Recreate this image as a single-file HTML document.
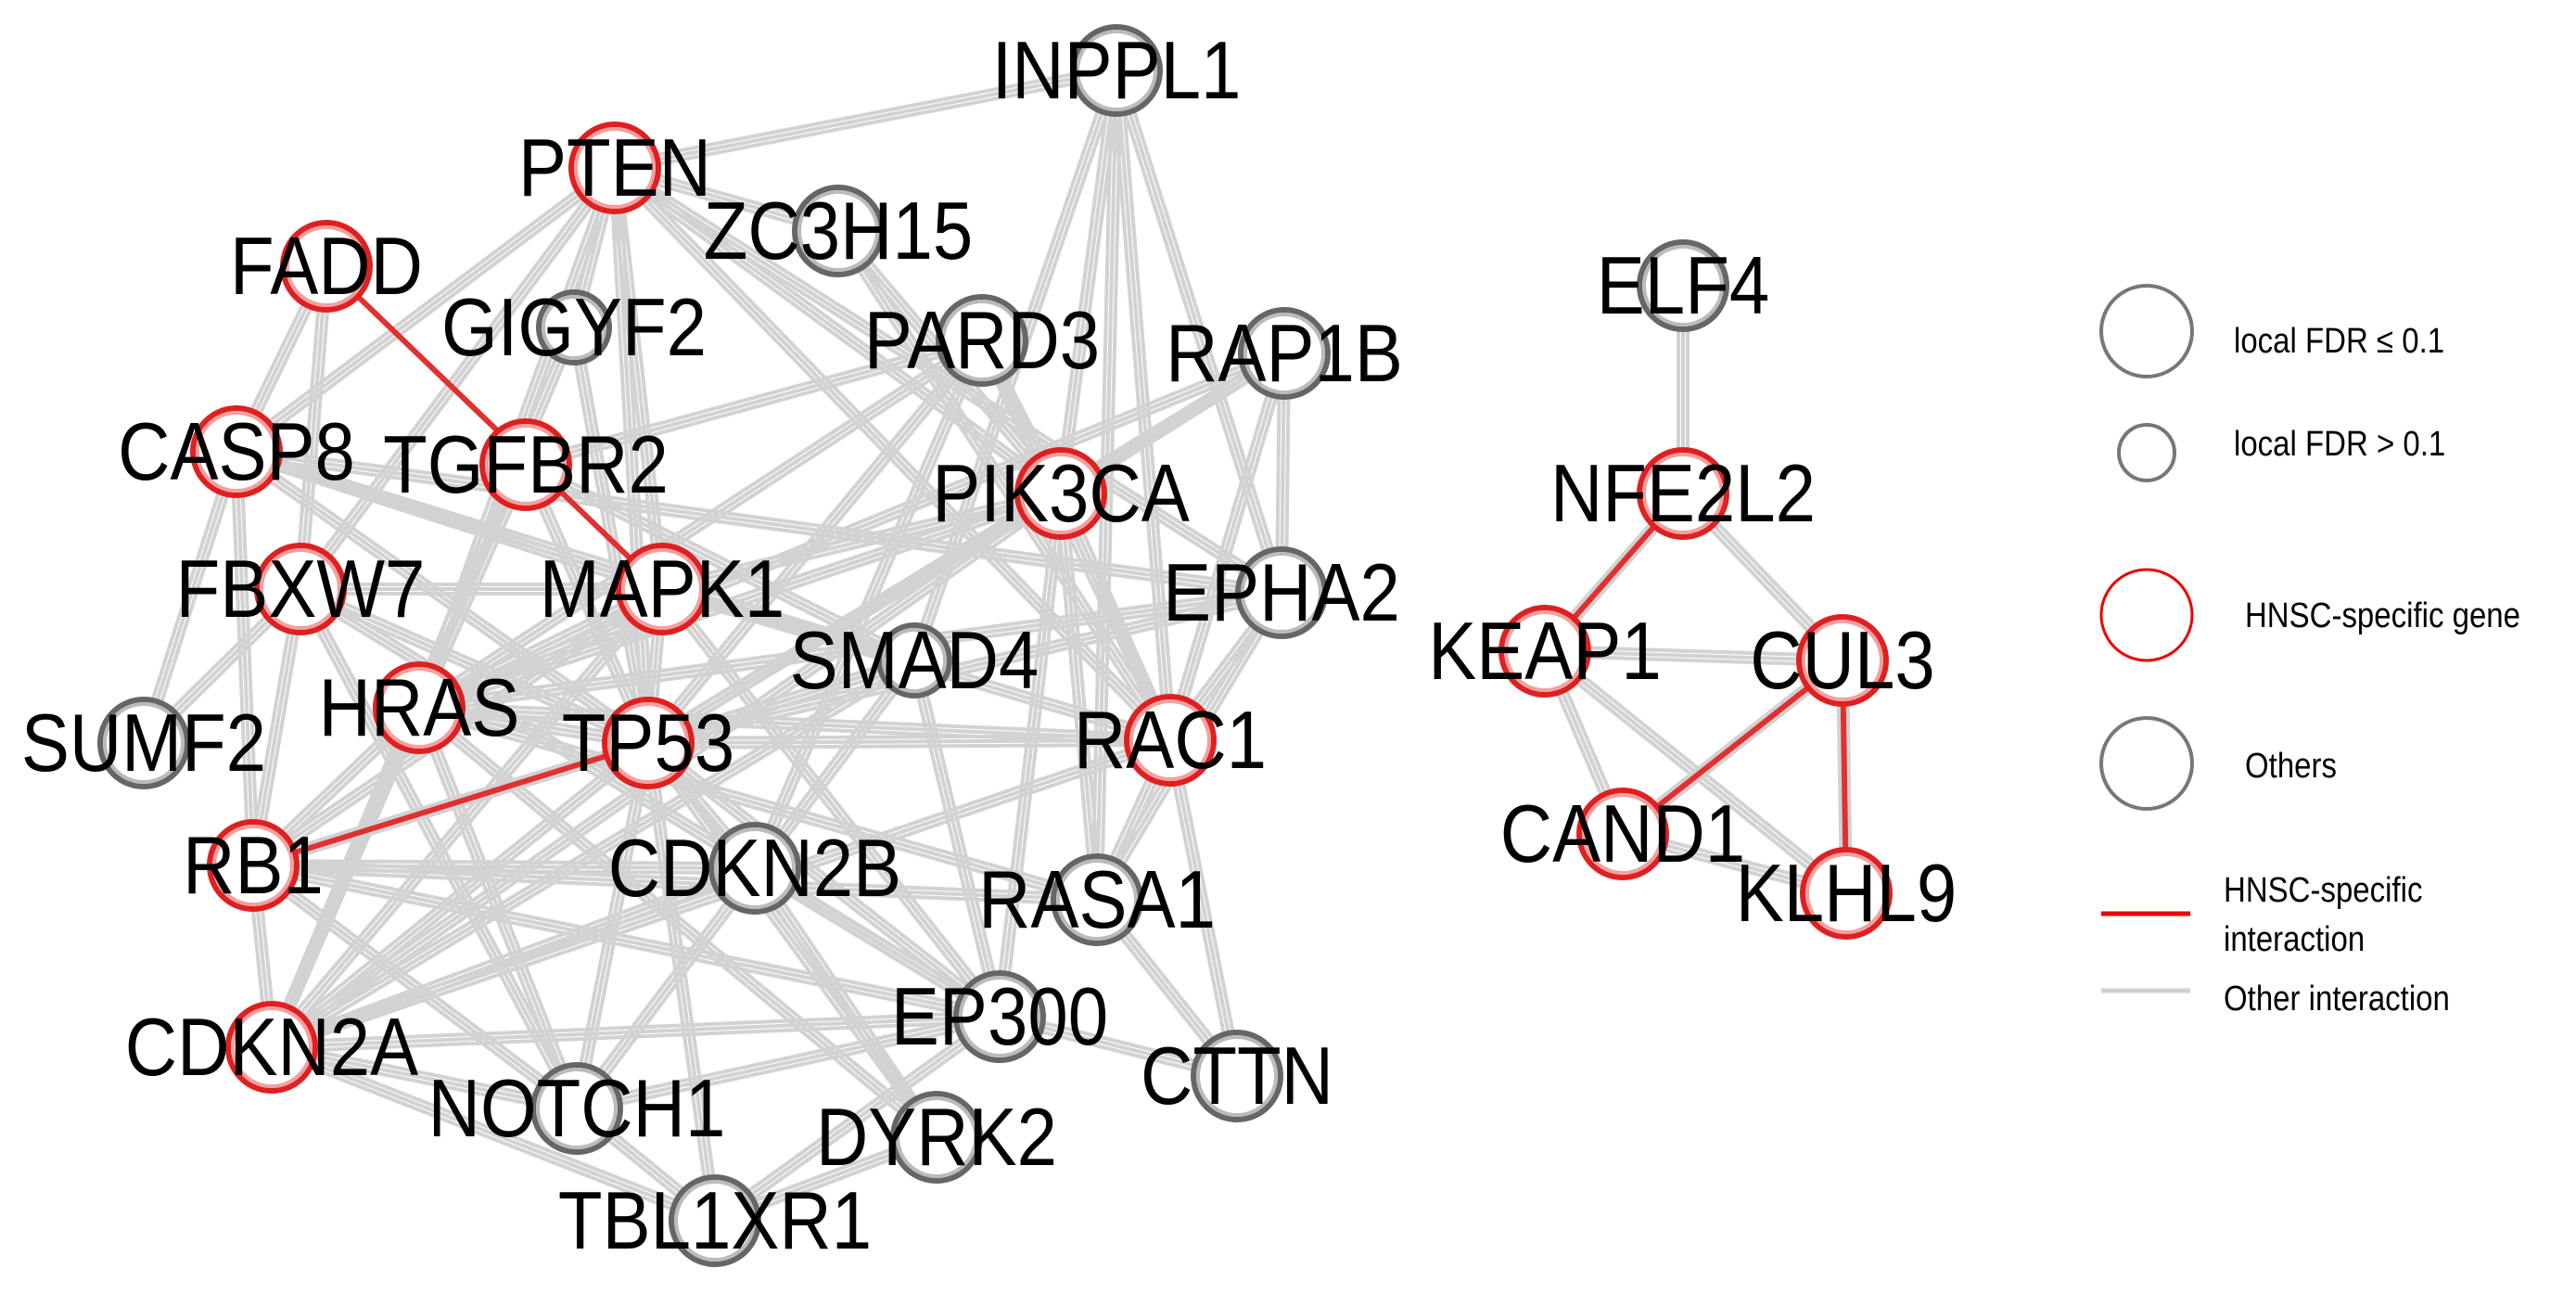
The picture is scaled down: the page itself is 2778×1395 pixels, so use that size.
<!DOCTYPE html>
<html><head><meta charset="utf-8"><style>
html,body{margin:0;padding:0;background:#fff;}
svg{display:block;}
.lb{font-family:"Liberation Sans",sans-serif;font-size:78px;fill:#000;text-anchor:middle;dominant-baseline:central;}
.lg{font-family:"Liberation Sans",sans-serif;font-size:33px;fill:#000;}
</style></head><body>
<svg id="s" width="2778" height="1395" viewBox="0 0 2778 1395" xmlns="http://www.w3.org/2000/svg">
<g id="edges"></g><g id="red"></g><g id="nodes"></g><g id="labels"></g>
<circle cx="2315" cy="357" r="49" fill="none" stroke="#777" stroke-width="4"/>
<circle cx="2315" cy="488" r="30" fill="none" stroke="#777" stroke-width="4"/>
<circle cx="2315" cy="663" r="49" fill="none" stroke="#e00" stroke-width="3"/>
<circle cx="2315" cy="823" r="49" fill="none" stroke="#777" stroke-width="4"/>
<line x1="2266" y1="985" x2="2362" y2="985" stroke="#e00" stroke-width="5"/>
<line x1="2266" y1="1068" x2="2362" y2="1068" stroke="#d0d0d0" stroke-width="5"/>
<text class="lg" x="2409" y="380" transform="translate(2409 380) scale(1,1.15) translate(-2409 -380)">local FDR ≤ 0.1</text>
<text class="lg" x="2409" y="491" transform="translate(2409 491) scale(1,1.15) translate(-2409 -491)">local FDR &gt; 0.1</text>
<text class="lg" x="2421" y="676" transform="translate(2421 676) scale(1,1.15) translate(-2421 -676)">HNSC-specific gene</text>
<text class="lg" x="2421" y="838" transform="translate(2421 838) scale(1,1.15) translate(-2421 -838)">Others</text>
<text class="lg" x="2398" y="972" transform="translate(2398 972) scale(1,1.15) translate(-2398 -972)">HNSC-specific</text>
<text class="lg" x="2398" y="1025" transform="translate(2398 1025) scale(1,1.15) translate(-2398 -1025)">interaction</text>
<text class="lg" x="2398" y="1089" transform="translate(2398 1089) scale(1,1.15) translate(-2398 -1089)">Other interaction</text>
</svg>
<script>
var N={INPPL1:[1204,76,0],PTEN:[663,181,1],ZC3H15:[904,249,0],FADD:[352,287,1],GIGYF2:[619,353,0,38],PARD3:[1059,367,0],RAP1B:[1385,381,0],CASP8:[255,487,1],TGFBR2:[567,501,1],PIK3CA:[1144,532,1],FBXW7:[324,635,1],MAPK1:[714,635,1],EPHA2:[1382,639,0],SMAD4:[986,712,0,38],HRAS:[452,763,1],SUMF2:[155,801,0],TP53:[699,801,1],RAC1:[1262,798,1],RB1:[273,933,1],CDKN2B:[814,936,0],RASA1:[1183,970,0],EP300:[1078,1096,0],CTTN:[1334,1160,0],CDKN2A:[293,1129,1],NOTCH1:[622,1195,0],DYRK2:[1010,1226,0],TBL1XR1:[771,1316,0],
ELF4:[1815,308,0],NFE2L2:[1815,532,1],KEAP1:[1666,702,1],CUL3:[1987,712,1],CAND1:[1750,899,1],KLHL9:[1991,963,1]};
var E="INPPL1-PTEN INPPL1-PIK3CA INPPL1-RAC1 INPPL1-EPHA2 INPPL1-SMAD4 INPPL1-RASA1 PTEN-ZC3H15 PTEN-PIK3CA PTEN-CASP8 PTEN-MAPK1 PTEN-TP53 PTEN-HRAS PTEN-FBXW7 PTEN-GIGYF2 PTEN-EPHA2 PTEN-RAC1 ZC3H15-PIK3CA FADD-CASP8 FADD-FBXW7 CASP8-TP53 CASP8-MAPK1 CASP8-RB1 CASP8-SMAD4 CASP8-EPHA2 TGFBR2-SMAD4 TGFBR2-HRAS TGFBR2-TP53 TGFBR2-CDKN2A PARD3-PIK3CA PARD3-TGFBR2 PARD3-HRAS PARD3-RAC1 PARD3-CDKN2B PARD3-TP53 RAP1B-PIK3CA RAP1B-HRAS RAP1B-EPHA2 RAP1B-RAC1 RAP1B-TP53 PIK3CA-HRAS PIK3CA-TP53 PIK3CA-RAC1 PIK3CA-EP300 PIK3CA-RASA1 PIK3CA-CDKN2A PIK3CA-MAPK1 FBXW7-TP53 FBXW7-NOTCH1 FBXW7-RB1 FBXW7-SUMF2 FBXW7-MAPK1 FBXW7-EP300 MAPK1-TP53 MAPK1-RAC1 MAPK1-HRAS MAPK1-EP300 MAPK1-SMAD4 MAPK1-RB1 MAPK1-CDKN2A EPHA2-HRAS EPHA2-TP53 EPHA2-RAC1 EPHA2-RASA1 SMAD4-TP53 SMAD4-EP300 SMAD4-CDKN2A SMAD4-NOTCH1 SMAD4-RB1 HRAS-RASA1 HRAS-TP53 HRAS-RB1 HRAS-CDKN2A HRAS-RAC1 HRAS-NOTCH1 HRAS-DYRK2 TP53-CDKN2A TP53-EP300 TP53-CDKN2B TP53-NOTCH1 TP53-RAC1 TP53-DYRK2 TP53-TBL1XR1 RAC1-RASA1 RAC1-CTTN RAC1-CDKN2A RB1-CDKN2A RB1-EP300 RB1-CDKN2B RB1-NOTCH1 RB1-RASA1 CDKN2B-CDKN2A CDKN2B-EP300 CDKN2B-DYRK2 EP300-CTTN EP300-NOTCH1 EP300-CDKN2A EP300-TBL1XR1 NOTCH1-TBL1XR1 NOTCH1-CDKN2A DYRK2-TBL1XR1 CDKN2A-TBL1XR1 CTTN-RASA1 CASP8-SUMF2 GIGYF2-TP53 GIGYF2-CDKN2A ZC3H15-RAC1 ELF4-NFE2L2 NFE2L2-KEAP1 NFE2L2-CUL3 KEAP1-CUL3 KEAP1-CAND1 KEAP1-KLHL9 CUL3-CAND1 CUL3-KLHL9 CAND1-KLHL9".split(" ");
var R=["FADD-MAPK1","RB1-TP53","NFE2L2-KEAP1","CUL3-CAND1","CUL3-KLHL9"];
var ns="http://www.w3.org/2000/svg";
function ln(g,a,b,off,col,w){var dx=b[0]-a[0],dy=b[1]-a[1],l=Math.hypot(dx,dy),ox=-dy/l*off,oy=dx/l*off;var e=document.createElementNS(ns,"line");e.setAttribute("x1",a[0]+ox);e.setAttribute("y1",a[1]+oy);e.setAttribute("x2",b[0]+ox);e.setAttribute("y2",b[1]+oy);e.setAttribute("stroke",col);e.setAttribute("stroke-width",w);g.appendChild(e);}
var ge=document.getElementById("edges"),gr=document.getElementById("red"),gn=document.getElementById("nodes"),gl=document.getElementById("labels");
E.forEach(function(s){var p=s.split("-");var a=N[p[0]],b=N[p[1]];ln(ge,a,b,-5,"#d2d2d2",4);ln(ge,a,b,0,"#d2d2d2",4);ln(ge,a,b,5,"#d2d2d2",4);});
R.forEach(function(s){var p=s.split("-");ln(gr,N[p[0]],N[p[1]],0,"#e03030",6);});
for(var k in N){var n=N[k],r=n[3]||47;var c=document.createElementNS(ns,"circle");c.setAttribute("cx",n[0]);c.setAttribute("cy",n[1]);c.setAttribute("r",r);c.setAttribute("fill","#fff");c.setAttribute("stroke",n[2]?"#e02020":"#666");c.setAttribute("stroke-width",6);gn.appendChild(c);
var c2=document.createElementNS(ns,"circle");c2.setAttribute("cx",n[0]);c2.setAttribute("cy",n[1]);c2.setAttribute("r",r-5);c2.setAttribute("fill","none");c2.setAttribute("stroke",n[2]?"#f2a0a0":"#bbb");c2.setAttribute("stroke-width",4);gn.appendChild(c2);
var t=document.createElementNS(ns,"text");t.setAttribute("class","lb");t.setAttribute("x",0);t.setAttribute("y",0);t.setAttribute("transform","translate("+n[0]+" "+n[1]+") scale(1,1.13)");t.textContent=k;gl.appendChild(t);}
</script>
</body></html>
